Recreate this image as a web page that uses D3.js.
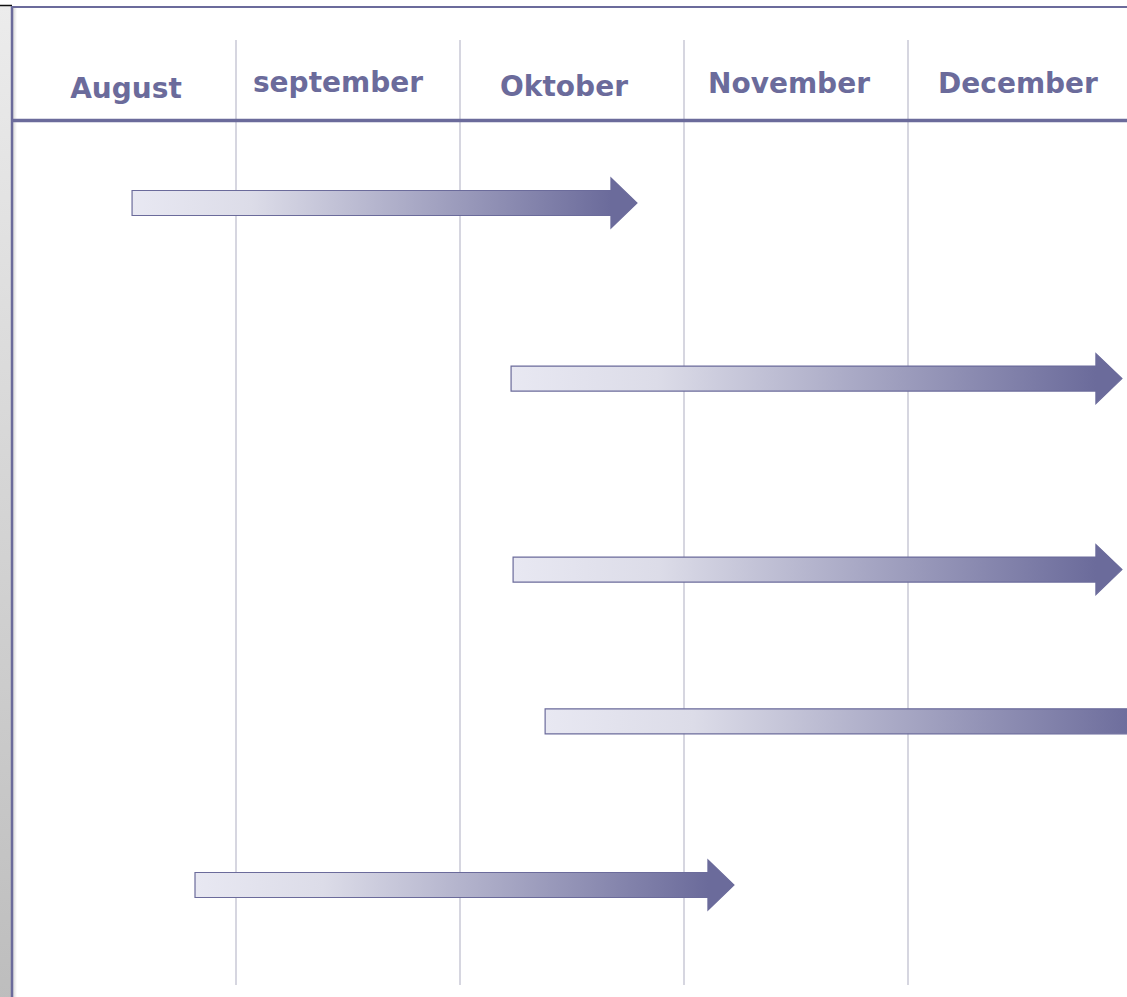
<!DOCTYPE html>
<html><head><meta charset="utf-8">
<script src="https://cdn.jsdelivr.net/npm/d3@7"></script>
<style>html,body{margin:0;padding:0;background:#fff;overflow:hidden}</style>
</head><body>
<svg id="chart" width="1127" height="997"></svg>
<script>
// ---- data ----
const months = ["August", "september", "Oktober", "November", "December"];
// task start / end in month units (0 = start of August)
const taskStart = [0.536, 2.228, 2.237, 2.38, 0.817];
const taskEnd   = [2.79, 4.955, 4.955, 5.15, 3.223];
// vertical lane position of each task
const taskLane  = [0, 1.03, 2.15, 3.04, 4.0];

// ---- layout ----
const W = 1127, H = 997;
const color = "#6b6b9b";
const svg = d3.select("#chart");

const x = d3.scaleLinear().domain([0, months.length]).range([12, 12 + 224 * months.length]);
const y = d3.scaleLinear().domain([0, 4]).range([203, 885]);

// left gray strip
const defs = svg.append("defs");
const sg = defs.append("linearGradient").attr("id","strip").attr("x1",0).attr("y1",0).attr("x2",0).attr("y2",1);
sg.append("stop").attr("offset","0%").attr("stop-color","#ececec");
sg.append("stop").attr("offset","100%").attr("stop-color","#bdbdbd");
svg.append("rect").attr("x",0).attr("y",6).attr("width",11).attr("height",H).attr("fill","url(#strip)");
svg.append("line").attr("x1",0).attr("x2",12).attr("y1",5.5).attr("y2",5.5).attr("stroke","#111").attr("stroke-width",1.5);
// shadow
const sh = defs.append("linearGradient").attr("id","shadow").attr("x1",0).attr("x2",1).attr("y1",0).attr("y2",0);
sh.append("stop").attr("offset","0%").attr("stop-color","#d8d8d8");
sh.append("stop").attr("offset","100%").attr("stop-color","#ffffff");
svg.append("rect").attr("x",13).attr("y",8).attr("width",4).attr("height",H).attr("fill","url(#shadow)");
svg.append("line").attr("x1",12).attr("x2",12).attr("y1",6).attr("y2",H).attr("stroke",color).attr("stroke-width",2.5);
// top border
svg.append("line").attr("x1",12).attr("x2",W).attr("y1",7).attr("y2",7).attr("stroke",color).attr("stroke-width",2);

// gridlines at month boundaries
svg.append("g").selectAll("line").data(d3.range(1, months.length)).join("line")
  .attr("x1", d => x(d)).attr("x2", d => x(d))
  .attr("y1", 40).attr("y2", 985)
  .attr("stroke", "#d6d6e0").attr("stroke-width", 2);

// header underline
svg.append("line").attr("x1",12).attr("x2",W).attr("y1",120.5).attr("y2",120.5).attr("stroke",color).attr("stroke-width",3.5);

// month labels
const labelDx = [2, -10, -8, -7, -2];
const labelY  = [98, 92, 96, 93, 93];
svg.append("g").selectAll("text").data(months).join("text")
  .attr("x", (d,i) => x(i + 0.5) + labelDx[i])
  .attr("y", (d,i) => labelY[i])
  .attr("text-anchor","middle")
  .attr("font-family","'DejaVu Sans', sans-serif")
  .attr("font-weight","bold")
  .attr("font-size","28px")
  .attr("fill", color)
  .text(d => d);

// arrows
const tasks = taskStart.map((s,i) => ({s, e: taskEnd[i], lane: taskLane[i], i}));
tasks.forEach(t => {
  const g = defs.append("linearGradient").attr("id","grad"+t.i)
    .attr("gradientUnits","userSpaceOnUse")
    .attr("x1", x(t.s)).attr("x2", x(t.e) - 26).attr("y1",0).attr("y2",0);
  g.append("stop").attr("offset","0%").attr("stop-color","#e8e8f2");
  g.append("stop").attr("offset","25%").attr("stop-color","#dcdce8");
  g.append("stop").attr("offset","100%").attr("stop-color",color);
});
const headL = 26, shaftH = 12.5, headH = 25;
svg.append("g").selectAll("path").data(tasks).join("path")
  .attr("d", t => {
    const x0 = x(t.s), x1 = x(t.e), cy = y(t.lane), xs = x1 - headL;
    return `M${x0},${cy-shaftH}H${xs}V${cy-headH}L${x1},${cy}L${xs},${cy+headH}V${cy+shaftH}H${x0}Z`;
  })
  .attr("fill", t => `url(#grad${t.i})`)
  .attr("stroke", color).attr("stroke-width", 1.2).attr("stroke-linejoin","miter");
</script>
</body></html>
